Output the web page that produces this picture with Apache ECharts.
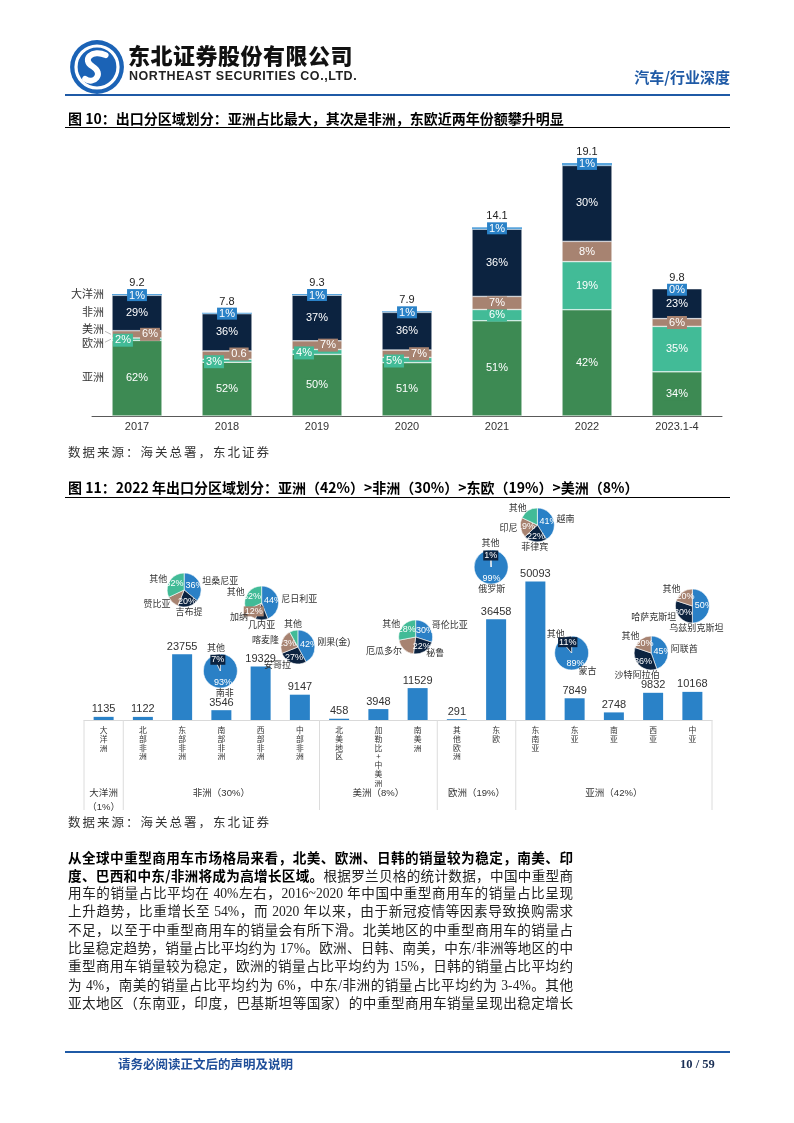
<!DOCTYPE html>
<html lang="zh-CN"><head><meta charset="utf-8">
<script src="https://cdn.jsdelivr.net/npm/echarts@6/dist/echarts.min.js"></script>
<style>
html,body{margin:0;padding:0}
body{width:794px;height:1123px;position:relative;background:#fff;font-family:"Noto Sans CJK SC",sans-serif;overflow:hidden}
#chart{position:absolute;left:0;top:0;width:794px;height:1123px;z-index:1}
.abs{position:absolute;white-space:nowrap;z-index:2}
.hline{position:absolute;z-index:2}
.title{font-size:14px;font-weight:700;color:#000;line-height:18px;left:68px}
.src{font-size:12.5px;color:#333;letter-spacing:2px;line-height:16px;left:68px;font-family:"Liberation Serif","Noto Sans CJK SC",serif}
.para{position:absolute;left:68px;top:848px;width:505px;z-index:2;font-family:"Liberation Serif","Noto Sans CJK SC",serif;font-size:13.6px;color:#222}
.para div{height:18.4px;line-height:18.4px;overflow:hidden;text-align:justify;text-align-last:justify;text-justify:inter-character}
.para b{font-family:"Noto Sans CJK SC",sans-serif;font-weight:700;color:#000}
</style></head>
<body>
<div class="abs" style="left:69px;top:39px;width:56px;height:56px">
<svg width="56" height="56" viewBox="0 0 52 52">
<circle cx="26" cy="26" r="25" fill="#1b63b6"/>
<circle cx="26" cy="26" r="19.5" fill="none" stroke="#fff" stroke-width="3"/>
<path d="M34 15 C 22 9, 11 19, 22 25.5 C 33 32, 23 43, 15 37" stroke="#fff" stroke-width="5.5" fill="none" stroke-linecap="round"/>
</svg></div>
<div class="abs" style="left:128px;top:41px;font-size:22px;line-height:26px;font-weight:900;color:#111;letter-spacing:0.5px">东北证券股份有限公司</div>
<div class="abs" style="left:129px;top:69px;font-size:12.5px;line-height:14px;font-weight:700;color:#222;letter-spacing:0.55px;font-family:'Liberation Sans',sans-serif">NORTHEAST SECURITIES CO.,LTD.</div>
<div class="abs" style="right:64px;top:67px;font-size:15px;line-height:20px;font-weight:700;color:#1f5aa6">汽车/行业深度</div>
<div class="hline" style="left:65px;top:94px;width:665px;height:2px;background:#1f5aa6"></div>

<div class="abs title" style="top:109px">图 10：出口分区域划分：亚洲占比最大，其次是非洲，东欧近两年份额攀升明显</div>
<div class="hline" style="left:65px;top:127px;width:665px;height:1px;background:#000"></div>
<div class="abs src" style="top:445px">数据来源：海关总署，东北证券</div>

<div class="abs title" style="top:478px">图 11：2022 年出口分区域划分：亚洲（42%）&gt;非洲（30%）&gt;东欧（19%）&gt;美洲（8%）</div>
<div class="hline" style="left:65px;top:497px;width:665px;height:1px;background:#000"></div>
<div class="abs src" style="top:815px">数据来源：海关总署，东北证券</div>

<div class="para">
<div><b>从全球中重型商用车市场格局来看，北美、欧洲、日韩的销量较为稳定，南美、印</b></div>
<div><b>度、巴西和中东/非洲将成为高增长区域。</b>根据罗兰贝格的统计数据，中国中重型商</div>
<div>用车的销量占比平均在 40%左右，2016~2020 年中国中重型商用车的销量占比呈现</div>
<div>上升趋势，比重增长至 54%，而 2020 年以来，由于新冠疫情等因素导致换购需求</div>
<div>不足，以至于中重型商用车的销量会有所下滑。北美地区的中重型商用车的销量占</div>
<div>比呈稳定趋势，销量占比平均约为 17%。欧洲、日韩、南美，中东/非洲等地区的中</div>
<div>重型商用车销量较为稳定，欧洲的销量占比平均约为 15%，日韩的销量占比平均约</div>
<div>为 4%，南美的销量占比平均约为 6%，中东/非洲的销量占比平均约为 3-4%。其他</div>
<div>亚太地区（东南亚，印度，巴基斯坦等国家）的中重型商用车销量呈现出稳定增长</div>
</div>

<div class="hline" style="left:65px;top:1051px;width:665px;height:2px;background:#1f5aa6"></div>
<div class="abs" style="left:118px;top:1056px;font-size:12.5px;line-height:16px;font-weight:700;color:#1f4e99">请务必阅读正文后的声明及说明</div>
<div class="abs" style="left:680px;top:1056px;font-size:12.5px;line-height:16px;font-weight:700;color:#1a2f55;font-family:'Liberation Serif',serif">10 / 59</div>

<div id="chart"></div>
<script>
// ---------- Figure 10 data ----------
const years = ['2017','2018','2019','2020','2021','2022','2023.1-4'];
const totals = [9.2, 7.8, 9.3, 7.9, 14.1, 19.1, 9.8];
const shareAsia    = [62, 52, 50, 51, 51, 42, 34];
const shareEurope  = [2, 3, 4, 5, 6, 19, 35];
const shareAmerica = [6, 8, 7, 7, 7, 8, 6];
const shareAfrica  = [29, 36, 37, 36, 36, 30, 23];
const shareOceania = [1, 1, 1, 1, 1, 1, 0];
const americaLabels = ['6%', '0.6', '7%', '7%', '7%', '8%', '6%'];
const seriesNames = ['亚洲', '欧洲', '美洲', '非洲', '大洋洲'];

// ---------- Figure 11 data ----------
const regions = ['大洋洲','北部非洲','东部非洲','南部非洲','西部非洲','中部非洲','北美地区','加勒比+中美洲','南美洲','其他欧洲','东欧','东南亚','东亚','南亚','西亚','中亚'];
const regionValues = [1135, 1122, 23755, 3546, 19329, 9147, 458, 3948, 11529, 291, 36458, 50093, 7849, 2748, 9832, 10168];
const groupLabels = ['大洋洲\n（1%）', '非洲（30%）', '美洲（8%）', '欧洲（19%）', '亚洲（42%）'];
const groupFirst = [0, 1, 6, 9, 11];
const groupLast  = [0, 5, 8, 10, 15];

const pieRegions = ['东部非洲','西部非洲','南部非洲','中部非洲','南美洲','东欧','东南亚','东亚','西亚','中亚'];
const pieNames = [
  ['坦桑尼亚','吉布提','赞比亚','其他'],
  ['尼日利亚','几内亚','加纳','其他'],
  ['南非','其他'],
  ['刚果(金)','安哥拉','喀麦隆','其他'],
  ['哥伦比亚','秘鲁','厄瓜多尔','其他'],
  ['俄罗斯','其他'],
  ['越南','菲律宾','印尼','其他'],
  ['蒙古','其他'],
  ['阿联酋','沙特阿拉伯','其他'],
  ['乌兹别克斯坦','哈萨克斯坦','其他']
];
const pieShares = [
  [36,20,12,32],
  [44,12,12,32],
  [93,7],
  [42,27,23,8],
  [30,22,20,28],
  [99,1],
  [41,22,19,18],
  [89,11],
  [45,36,20],
  [50,30,20]
];
// layout of the pies (pixel y of centre, small x shift from category centre)
const pieY  = [590, 603, 671, 647, 637, 567, 525, 653, 653, 606];
const pieDx = [2, 1, -1, -2, -2, -5, 2, -3, -2, 0];
// name labels placed below the pie instead of beside it: [pie, slice, dx]
const belowLabels = [[8, 1, -14], [9, 0, 4]];

const C = {asia:'#3d8a53', eu:'#42bb97', am:'#a78371', af:'#0c2340', oc:'#2a82c8'};
const PIE_COLORS = ['#2a80c6', '#0c2340', '#a78371', '#42bb97'];
const FONT = '"Liberation Sans","Noto Sans CJK SC",sans-serif';

const chart = echarts.init(document.getElementById('chart'));

function stackSeries(name, shares, color, labelFn, offsets) {
  return {
    type:'bar', name, stack:'a', xAxisIndex:0, yAxisIndex:0, barWidth:50,
    data: totals.map((t,i)=>({value: t*shares[i]/100, label:{offset: offsets ? offsets[i] : [0,0]}})),
    itemStyle:{color, borderColor:'#fff', borderWidth:0.5},
    label:{show:true, position:'inside', color:'#fff', fontSize:11, backgroundColor:color, padding:[1,2],
      formatter: p => labelFn(p.dataIndex)}
  };
}

const euOff = [[-14,1],[-13,1],[-13,1],[-13,1],[0,0],[0,0],[0,0]];
const amOff = [[13,0],[12,-1],[11,0],[12,0],[0,0],[0,0],[0,0]];

const series = [
  stackSeries(seriesNames[0], shareAsia, C.asia, i=>shareAsia[i]+'%'),
  stackSeries(seriesNames[1], shareEurope, C.eu, i=>shareEurope[i]+'%', euOff),
  stackSeries(seriesNames[2], shareAmerica, C.am, i=>americaLabels[i], amOff),
  stackSeries(seriesNames[3], shareAfrica, C.af, i=>shareAfrica[i]+'%'),
  {
    type:'bar', name:seriesNames[4], stack:'a', xAxisIndex:0, yAxisIndex:0, barWidth:50,
    data: totals.map((t,i)=>t*shareOceania[i]/100),
    itemStyle:{color:'#5aa5dc'},
    label:{show:true, position:'top', distance:-7,
      formatter: p => '{t|' + totals[p.dataIndex] + '}\n{p|' + shareOceania[p.dataIndex] + '%}',
      rich:{ t:{color:'#222', fontSize:11, lineHeight:12, fontFamily:FONT},
             p:{color:'#fff', fontSize:11, backgroundColor:C.oc, padding:[1,2,0,2], lineHeight:12, fontFamily:FONT} }
    }
  },
  {
    type:'bar', xAxisIndex:1, yAxisIndex:1, barWidth:20, data: regionValues,
    itemStyle:{color:'#2a82c8'},
    label:{show:true, position:'top', distance:2, color:'#333', fontSize:11}
  }
];

chart.setOption({
  animation:false,
  textStyle:{fontFamily:FONT},
  grid:[{left:92, right:72, top:151, bottom:707}, {left:84, right:82, top:554, bottom:403}],
  xAxis:[
    {type:'category', gridIndex:0, data:years, axisLine:{lineStyle:{color:'#595959', width:1}}, axisTick:{show:false},
     axisLabel:{color:'#333', fontSize:11, margin:5}},
    {type:'category', gridIndex:1, data:regions, axisLine:{lineStyle:{color:'#d9d9d9'}}, axisTick:{show:false},
     axisLabel:{interval:0, margin:6, formatter:v=>'{v|' + v.split('').join('\n') + '}',
       rich:{v:{color:'#333', fontSize:7.8, lineHeight:8.7, fontFamily:'"Noto Sans CJK SC",sans-serif'}}}}
  ],
  yAxis:[
    {type:'value', gridIndex:0, min:0, max:20, show:false},
    {type:'value', gridIndex:1, min:0, max:60000, show:false}
  ],
  series
});

const g = [];
// pies placed above their categories, names placed around them
pieRegions.forEach((r,k)=>{
  const cx = chart.convertToPixel({xAxisIndex:1}, r) + pieDx[k];
  const cy = pieY[k];
  series.push({
    type:'pie', center:[cx,cy], radius:17, startAngle:90, silent:true, z:5,
    data: pieShares[k].map((v,j)=>({value:v, name:pieNames[k][j], itemStyle:{color:PIE_COLORS[j]},
      label: v < 15 ? {backgroundColor:PIE_COLORS[j], padding:[1,1,0,1]} : {}})),
    label:{show:true, position:'inside', formatter:'{c}%', color:'#fff', fontSize:9},
    labelLine:{show:false},
    itemStyle:{borderColor:'#fff', borderWidth:0.6}
  });
  const tot = pieShares[k].reduce((a,b)=>a+b,0);
  let acc = 0;
  pieShares[k].forEach((v,j)=>{
    const mid = (acc + v/2)/tot*2*Math.PI; acc += v;
    const s = Math.sin(mid), c = Math.cos(mid), R = 20;
    let x = cx + R*s, y = cy - R*c, align = s > 0 ? 'left' : 'right';
    if (Math.abs(s) < 0.3) { align = 'center'; y += (c > 0 ? -3 : 3); }
    const bl = belowLabels.find(b=>b[0]===k && b[1]===j);
    if (bl) { x = cx + bl[2]; y = cy + R + 3; align = 'center'; }
    g.push({type:'text', x, y, z:10, silent:true,
      style:{text:pieNames[k][j], fill:'#333', fontSize:9, fontFamily:FONT, align, verticalAlign:'middle'}});
  });
});

// series names beside the 2017 bar
const p0 = (v)=>chart.convertToPixel({xAxisIndex:0, yAxisIndex:0}, [years[0], v]);
const t0 = totals[0];
const cum = [shareAsia[0], shareAsia[0]+shareEurope[0], shareAsia[0]+shareEurope[0]+shareAmerica[0],
             shareAsia[0]+shareEurope[0]+shareAmerica[0]+shareAfrica[0]].map(s=>t0*s/100);
const barLeft = p0(0)[0] - 25;
const tx = barLeft - 8;
function lbl(text, y){ g.push({type:'text', x:tx, y, z:10, style:{text, fill:'#333', fontSize:11, fontFamily:FONT, align:'right', verticalAlign:'middle'}}); }
lbl('大洋洲', p0(cum[3])[1]);
lbl('非洲', p0((cum[2]+cum[3])/2)[1]);
const yAm = p0((cum[1]+cum[2])/2)[1];
const yEu = p0((cum[0]+cum[1])/2)[1];
lbl('美洲', yAm-4);
lbl('欧洲', yEu+5);
lbl('亚洲', p0(cum[0]/2)[1]);
g.push({type:'polyline', z:10, shape:{points:[[tx+1,yAm-3],[barLeft-1,yAm]]}, style:{stroke:'#aaa', lineWidth:0.8}});
g.push({type:'polyline', z:10, shape:{points:[[tx+1,yEu+3],[barLeft-1,yEu]]}, style:{stroke:'#aaa', lineWidth:0.8}});

// table lines & group labels under figure 11
const cx1 = i => chart.convertToPixel({xAxisIndex:1}, regions[i]);
const half = (cx1(1)-cx1(0))/2;
const axisY = chart.convertToPixel({yAxisIndex:1}, 0);
const edges = [cx1(0)-half];
groupLast.forEach(i=>edges.push(cx1(i)+half));
edges.forEach(x=>g.push({type:'line', z:10, shape:{x1:x, y1:axisY, x2:x, y2:axisY+90}, style:{stroke:'#dcdcdc', lineWidth:1}}));
groupLabels.forEach((t,k)=>{
  const x = (cx1(groupFirst[k]) + cx1(groupLast[k]))/2;
  g.push({type:'text', x, y:axisY+66, z:10, style:{text:t, fill:'#333', fontSize:9.5, lineHeight:14, fontFamily:FONT, align:'center', verticalAlign:'top'}});
});

chart.setOption({series, graphic:g});
</script>
</body></html>
